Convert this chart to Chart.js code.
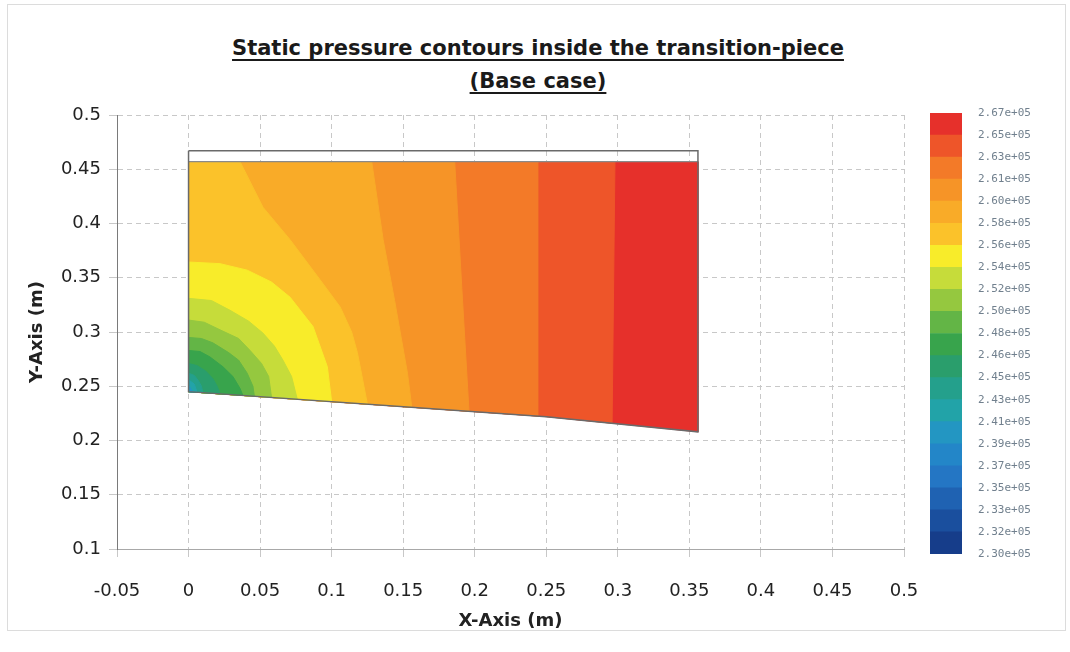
<!DOCTYPE html>
<html>
<head>
<meta charset="utf-8">
<script src="https://cdn.jsdelivr.net/npm/chart.js@4.4.1/dist/chart.umd.min.js"></script>
<style>
  html, body { margin: 0; padding: 0; background: #fff; }
  #frame { position: absolute; left: 7px; top: 4px; width: 1057px; height: 625px; border: 1px solid #dcdcdc; }
  #title { position: absolute; left: 0; top: 32px; width: 1076px; text-align: center;
           font: bold 21px "DejaVu Sans", sans-serif; line-height: 33px; color: #1a1a1a; }
  #title span { text-decoration: underline; text-decoration-thickness: 2px; text-underline-offset: 4px; }
  #main { position: absolute; left: 0; top: 0; width: 920px; height: 652px; }
  #bar { position: absolute; left: 920px; top: 0; width: 150px; height: 652px; }
</style>
</head>
<body>
<div id="frame"></div>
<div id="title"><span>Static pressure contours inside the transition-piece</span><br><span>(Base case)</span></div>
<div id="main"><canvas id="field"></canvas></div>
<div id="bar"><canvas id="scale"></canvas></div>
<script>
// axis ranges (m)
const xRange = [-0.05, 0.5];
const yRange = [0.1, 0.5];
const tickStep = 0.05;

// duct geometry (m)
const wallBottom = [[0, 0.245], [0.25, 0.222], [0.356, 0.208]];
const wallTop = 0.457;
const stripTop = 0.467;
const outletX = 0.356;

// contour levels (Pa), high -> low
const levels = [267000, 265000, 263000, 261000, 260000, 258000, 256000, 254000, 252000, 250000,
                248000, 246000, 245000, 243000, 241000, 239000, 237000, 235000, 233000, 232000, 230000];
const bandColors = ['#e6302b', '#ee5529', '#f37a28', '#f69427', '#f9ab28', '#fbc22a', '#f8ec2a', '#c6dc3a',
                    '#95c83f', '#63b546', '#38a44c', '#2a9e6c', '#24a08c', '#22a3a8', '#2396c2', '#2386c8',
                    '#2476c4', '#1f62b2', '#1a4f9e', '#163d8a'];

// iso-lines, [x, y] in m; a null y ends the line on the lower wall
const iso265 = [[0.298, 0.457], [0.296, null]];
const iso263 = [[0.244, 0.457], [0.244, null]];
const iso261 = [[0.186, 0.457], [0.191, 0.340], [0.196, null]];
const iso260 = [[0.128, 0.457], [0.136, 0.385], [0.144, 0.329], [0.153, 0.262], [0.156, null]];
const iso258 = [[0.036, 0.457], [0.052, 0.415], [0.071, 0.385], [0.092, 0.348], [0.106, 0.323],
                [0.114, 0.300], [0.118, 0.281], [0.125, null]];
const iso256 = [[0, 0.3645], [0.022, 0.363], [0.041, 0.357], [0.058, 0.346], [0.071, 0.332],
                [0.087, 0.305], [0.097, 0.268], [0.100, null]];
const iso254 = [[0, 0.331], [0.016, 0.329], [0.029, 0.320], [0.042, 0.310], [0.052, 0.299],
                [0.060, 0.287], [0.066, 0.274], [0.072, 0.259], [0.076, null]];
const iso252 = [[0, 0.311], [0.011, 0.309], [0.022, 0.302], [0.035, 0.294], [0.043, 0.283],
                [0.051, 0.271], [0.056, 0.259], [0.058, null]];
const iso250 = [[0, 0.295], [0.009, 0.294], [0.017, 0.290], [0.028, 0.281], [0.035, 0.274],
                [0.041, 0.262], [0.045, 0.250], [0.046, null]];
const iso248 = [[0, 0.283], [0.008, 0.282], [0.015, 0.277], [0.024, 0.268], [0.031, 0.259],
                [0.036, 0.248], [0.038, null]];
const iso246 = [[0, 0.271], [0.006, 0.269], [0.012, 0.264], [0.017, 0.257], [0.020, 0.250], [0.022, null]];
const iso245 = [[0, 0.262], [0.004, 0.260], [0.007, 0.255], [0.009, 0.250], [0.010, null]];
const iso243 = [[0, 0.256], [0.004, 0.252], [0.006, null]];
const iso241 = [[0, 0.251], [0.003, null]];
const isoLines = [iso265, iso263, iso261, iso260, iso258, iso256, iso254, iso252, iso250,
                  iso248, iso246, iso245, iso243, iso241];

function wallY(x) {
  for (let i = 1; i < wallBottom.length; i++) {
    const [x0, y0] = wallBottom[i - 1], [x1, y1] = wallBottom[i];
    if (x <= x1) return y0 + (y1 - y0) * (x - x0) / (x1 - x0);
  }
  return wallBottom[wallBottom.length - 1][1];
}

// region on the low-pressure side of an iso-line
function lowSide(line) {
  const pts = line.map(([x, y]) => ({ x, y: y === null ? wallY(x) : y }));
  const endX = pts[pts.length - 1].x;
  const poly = [];
  if (pts[0].x > 0) poly.push({ x: 0, y: wallTop });
  poly.push(...pts);
  for (let i = wallBottom.length - 1; i >= 0; i--) {
    if (wallBottom[i][0] < endX) poly.push({ x: wallBottom[i][0], y: wallBottom[i][1] });
  }
  poly.push(poly[0]);
  return poly;
}

const wallPts = wallBottom.slice().reverse().map(([x, y]) => ({ x, y }));
const core = [{ x: 0, y: wallTop }, { x: outletX, y: wallTop }, { x: outletX, y: wallY(outletX) },
              ...wallPts.filter(p => p.x < outletX), { x: 0, y: wallTop }];
const outline = [{ x: 0, y: stripTop }, { x: outletX, y: stripTop }, { x: outletX, y: wallY(outletX) },
                 ...wallPts.filter(p => p.x < outletX), { x: 0, y: stripTop }];

const fillSet = (data, color, order) => ({
  data, order, fill: 'shape', backgroundColor: color, borderColor: color, borderWidth: 1, pointRadius: 0
});

const datasets = [fillSet(core, bandColors[0], 50)];
isoLines.forEach((line, k) => datasets.push(fillSet(lowSide(line), bandColors[k + 1], 49 - k)));
datasets.push({ data: [{ x: 0, y: wallTop }, { x: outletX, y: wallTop }], order: 1, fill: false,
                borderColor: '#8a8a8a', borderWidth: 1.2, pointRadius: 0 });
datasets.push({ data: outline, order: 0, fill: false, borderColor: '#6a6a6a', borderWidth: 1.5, pointRadius: 0 });

const tickFont = { family: '"DejaVu Sans", sans-serif', size: 18 };
const titleFont = { family: '"DejaVu Sans", sans-serif', size: 18, weight: 'bold' };
const fmt = v => String(+v.toFixed(2));

new Chart(document.getElementById('field'), {
  type: 'line',
  data: { datasets },
  options: {
    responsive: true,
    maintainAspectRatio: false,
    animation: false,
    layout: { padding: { left: 23, right: 16, top: 115, bottom: 16 } },
    plugins: { legend: { display: false }, tooltip: { enabled: false } },
    elements: { line: { tension: 0 } },
    scales: {
      x: {
        type: 'linear', min: xRange[0], max: xRange[1],
        ticks: { stepSize: tickStep, callback: fmt, color: '#222', font: tickFont, padding: 24, maxRotation: 0 },
        grid: { color: '#c8c8c8', tickLength: 8 },
        border: { color: '#a8a8a8', dash: [5, 4] },
        title: { display: true, text: 'X-Axis (m)', color: '#222', font: titleFont, padding: 4 },
        afterFit: s => { s.height = 87; s.paddingLeft = 0; s.paddingRight = 0; }
      },
      y: {
        type: 'linear', min: yRange[0], max: yRange[1],
        ticks: { stepSize: tickStep, callback: fmt, color: '#222', font: tickFont, padding: 8 },
        grid: { color: '#c8c8c8', tickLength: 8 },
        border: { color: '#7a7a7a', dash: [5, 4] },
        title: { display: true, text: 'Y-Axis (m)', color: '#222', font: titleFont, padding: 4 },
        afterFit: s => { s.width = 94; }
      }
    }
  }
});

// colour legend: one stacked bar, one segment per band, lowest band at the bottom
const levelsUp = levels.slice().reverse();
const colorsUp = bandColors.slice().reverse();

new Chart(document.getElementById('scale'), {
  type: 'bar',
  data: {
    labels: [''],
    datasets: colorsUp.map(c => ({ data: [1], backgroundColor: c, borderWidth: 0,
                                   barPercentage: 1, categoryPercentage: 1 }))
  },
  options: {
    responsive: true,
    maintainAspectRatio: false,
    animation: false,
    layout: { padding: { left: 10, right: 0, top: 113, bottom: 98 } },
    plugins: { legend: { display: false }, tooltip: { enabled: false } },
    scales: {
      x: { stacked: true, display: false },
      y: {
        stacked: true, position: 'right', min: 0, max: levelsUp.length - 1,
        ticks: { stepSize: 1, autoSkip: false, padding: 16, color: '#71808e',
                 font: { family: '"DejaVu Sans Mono", monospace', size: 11 },
                 callback: v => levelsUp[v].toExponential(2).replace(/e\+(\d)$/, 'e+0$1') },
        grid: { display: false, drawTicks: false },
        border: { display: false },
        afterFit: s => { s.width = 108; }
      }
    }
  }
});
</script>
</body>
</html>
